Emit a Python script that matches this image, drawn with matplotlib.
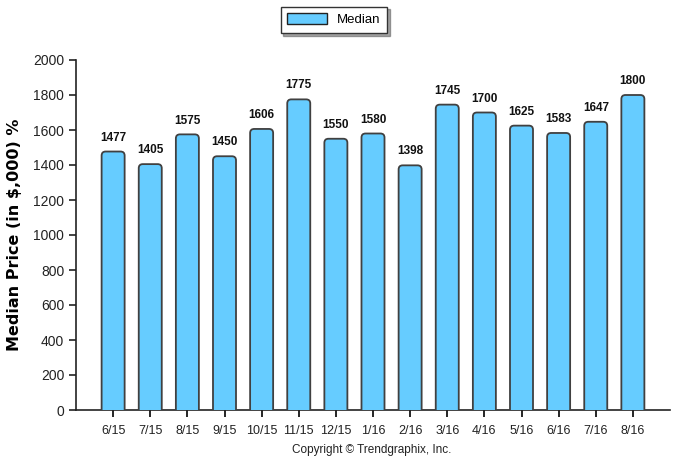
import matplotlib
matplotlib.use("Agg")
import matplotlib.pyplot as plt
from matplotlib.patches import Patch, FancyBboxPatch

categories = ["6/15", "7/15", "8/15", "9/15", "10/15", "11/15", "12/15", "1/16",
              "2/16", "3/16", "4/16", "5/16", "6/16", "7/16", "8/16"]
median = [1477, 1405, 1575, 1450, 1606, 1775, 1550, 1580, 1398, 1745, 1700,
          1625, 1583, 1647, 1800]
yticks = [0, 200, 400, 600, 800, 1000, 1200, 1400, 1600, 1800, 2000]

plt.rcParams['font.family'] = ['Liberation Sans', 'DejaVu Sans']

fig = plt.figure(figsize=(6.88, 4.68), dpi=100)
ax = fig.add_axes([76/688, 58/468, 594/688, 350/468])

ax.set_xlim(-1, len(categories))
ax.set_ylim(0, 2000)

x = list(range(len(categories)))
bars = ax.bar(x, median, width=0.62, color="#66CCFF", edgecolor="#404040",
              linewidth=1.2, zorder=3)
# rounded top corners
aspect = (2000 / 350) / ((len(categories) + 1) / 594)
for r in bars:
    r.set_visible(False)
    fb = FancyBboxPatch((r.get_x(), -60), r.get_width(), r.get_height() + 60,
                        boxstyle="round,pad=0,rounding_size=0.11",
                        mutation_aspect=aspect, facecolor="#66CCFF",
                        edgecolor="#404040", linewidth=1.3, zorder=3)
    ax.add_patch(fb)

for xi, v in zip(x, median):
    ax.text(xi, v + 45, f"{v}", ha="center", va="bottom", fontsize=8.5,
            fontweight="bold", color="#111111")

ax.set_yticks(yticks)
ax.set_xticks(x)
ax.set_xticklabels(categories, fontsize=9, color="#222222")
ax.tick_params(axis="y", labelsize=10, colors="#222222", length=5, width=1.2)
ax.tick_params(axis="x", length=5, width=1.2, pad=6)
for s in ["top", "right"]:
    ax.spines[s].set_visible(False)
ax.spines["left"].set_linewidth(1.2)
ax.spines["bottom"].set_linewidth(1.2)
ax.spines["left"].set_color("#222222")
ax.spines["bottom"].set_color("#222222")
ax.set_ylabel("Median Price (in $,000) %", fontsize=11.5, fontweight="bold",
              labelpad=8, family=["DejaVu Sans"])

leg = fig.legend(handles=[Patch(facecolor="#66CCFF", edgecolor="#222222", label="Median")],
                 loc="upper center", bbox_to_anchor=(334/688, 1.0), fontsize=9.5,
                 frameon=True, fancybox=False, shadow=True, edgecolor="#333333",
                 handlelength=3.0, handleheight=0.9, borderpad=0.5)

fig.text(372/688, 1 - 450/468, "Copyright \u00a9 Trendgraphix, Inc.", ha="center",
         va="center", fontsize=8.5, color="#222222")

fig.savefig("out.png", dpi=100)
